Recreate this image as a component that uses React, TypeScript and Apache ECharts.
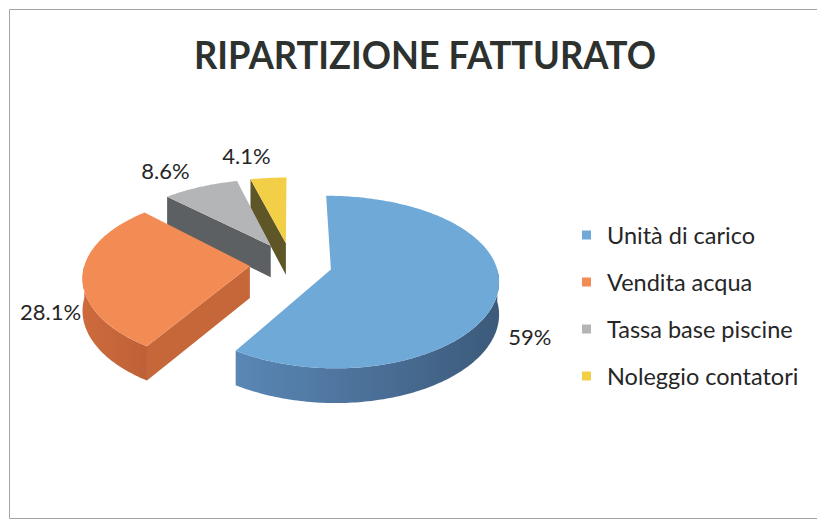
import React, { useEffect, useRef } from "react";
import * as echarts from "echarts";

// ---- data ----
const chartTitle = "RIPARTIZIONE FATTURATO";
const categories = ["Unità di carico", "Vendita acqua", "Tassa base piscine", "Noleggio contatori"];
const shares = [59, 28.1, 8.6, 4.1];

// ---- styling / layout ----
const palette = [
  { top: "#6fa9d8", wallFrom: "#5a87b6", wallTo: "#3c5a7a", face: "#4a6f96" },
  { top: "#f38b55", wallFrom: "#cd6b3c", wallTo: "#be6038", face: "#c6673a" },
  { top: "#b3b5b7", wallFrom: "#8a8c8e", wallTo: "#6a6c6e", face: "#5d6062" },
  { top: "#f3cf47", wallFrom: "#b79a30", wallTo: "#8e7a2a", face: "#5f5628" },
];
const labelNudge = [
  [-2, 4],
  [2, 2],
  [-23, -7],
  [-19, -12],
];
const CX = 291, CY = 263.5, RX = 165, RY = 84.5, KX = 0.12, KY = 0.148;
const EXPLODE = 0.25, DEPTH = 32, KT = 0.08, LABEL_R = 1.2;
const FONT = "Lato, 'Open Sans', sans-serif";

function proj(U: number, V: number): number[] {
  return [CX + RX * U * (1 + KX * V), CY + RY * V * (1 + KY * V)];
}

const total = shares.reduce((a, b) => a + b, 0);

function sliceAngles(i: number, value: number) {
  const before = shares.slice(0, i).reduce((a, b) => a + b, 0);
  const a0 = (before / total) * Math.PI * 2;
  const a1 = ((before + value) / total) * Math.PI * 2;
  return { a0, a1, mid: (a0 + a1) / 2 };
}

function makeRenderItem(i: number) {
  return (params: any, api: any) => {
    const value = api.value(0);
    const { a0, a1, mid } = sliceAngles(i, value);
    const ou = EXPLODE * Math.sin(mid);
    const ov = -EXPLODE * Math.cos(mid);
    const pal = palette[i];
    const Vof = (phi: number) => ov - Math.cos(phi);
    const topP = (phi: number) => proj(ou + Math.sin(phi), Vof(phi));
    const botP = (phi: number) => {
      const p = topP(phi);
      return [p[0], p[1] + DEPTH * (1 + KT * Vof(phi))];
    };
    const vTop = proj(ou, ov);
    const vBot = [vTop[0], vTop[1] + DEPTH * (1 + KT * ov)];
    const arc = (lo: number, hi: number, f: (p: number) => number[]) => {
      const n = Math.max(2, Math.ceil(((hi - lo) * 180) / Math.PI));
      const pts: number[][] = [];
      for (let k = 0; k <= n; k++) pts.push(f(lo + ((hi - lo) * k) / n));
      return pts;
    };
    const children: any[] = [];
    // radial faces
    if (Math.sin(a0) < -0.01) {
      children.push({
        type: "polygon",
        shape: { points: [vTop, topP(a0), botP(a0), vBot] },
        style: { fill: pal.face },
      });
    }
    if (Math.sin(a1) > 0.01) {
      children.push({
        type: "polygon",
        shape: { points: [vTop, topP(a1), botP(a1), vBot] },
        style: { fill: pal.face },
      });
    }
    // outer wall (front half only)
    const lo = Math.max(a0, Math.PI / 2);
    const hi = Math.min(a1, (Math.PI * 3) / 2);
    if (hi > lo) {
      const upper = arc(lo, hi, topP);
      const lower = arc(lo, hi, botP).reverse();
      children.push({
        type: "polygon",
        shape: { points: upper.concat(lower) },
        style: {
          fill: new echarts.graphic.LinearGradient(0, 0, 1, 0, [
            { offset: 0, color: pal.wallFrom },
            { offset: 1, color: pal.wallTo },
          ]),
        },
      });
    }
    // top face
    children.push({
      type: "polygon",
      shape: { points: [vTop].concat(arc(a0, a1, topP)) },
      style: { fill: pal.top },
    });
    // label
    const lu = (EXPLODE + LABEL_R) * Math.sin(mid);
    const lv = -(EXPLODE + LABEL_R) * Math.cos(mid);
    const lp = proj(lu, lv);
    if (lv > 0) lp[1] += DEPTH;
    children.push({
      type: "text",
      x: lp[0] + labelNudge[i][0],
      y: lp[1] + labelNudge[i][1],
      style: {
        text: `${value}%`,
        fill: "#262626",
        fontSize: 22,
        fontFamily: FONT,
        align: "center",
        verticalAlign: "middle",
      },
    });
    return { type: "group", children };
  };
}

export default function App() {
  const ref = useRef<HTMLDivElement>(null);
  useEffect(() => {
    if (!ref.current) return;
    const chart = echarts.init(ref.current, undefined, { renderer: "svg" });
    // draw back slices first
    const order = shares
      .map((v, i) => {
        const { mid } = sliceAngles(i, v);
        return { i, depth: -Math.cos(mid) };
      })
      .sort((a, b) => a.depth - b.depth);
    const series = order.map(({ i }, rank) => ({
      type: "custom",
      name: categories[i],
      coordinateSystem: "none",
      z: 2 + rank,
      itemStyle: { color: palette[i].top },
      data: [shares[i]],
      renderItem: makeRenderItem(i),
    }));
    chart.setOption({
      animation: false,
      backgroundColor: "#ffffff",
      graphic: [
        {
          type: "rect",
          shape: { x: 9.5, y: 9.5, width: 830, height: 509 },
          style: { fill: "none", stroke: "#a3a3a3", lineWidth: 1 },
          silent: true,
        },
        {
          type: "text",
          x: 425,
          y: 54,
          scaleX: 0.93,
          style: {
            text: chartTitle,
            fill: "#2d322f",
            fontSize: 39,
            fontWeight: "bold",
            fontFamily: FONT,
            align: "center",
            verticalAlign: "middle",
          },
        },
      ],
      legend: {
        data: categories,
        orient: "vertical",
        left: 582,
        top: 223,
        padding: 0,
        icon: "rect",
        itemWidth: 9,
        itemHeight: 9,
        itemGap: 23,
        selectedMode: false,
        textStyle: {
          fontSize: 23.5,
          lineHeight: 24,
          fontFamily: FONT,
          color: "#262626",
          padding: [0, 0, 0, 11],
        },
      },
      series,
    });
    return () => chart.dispose();
  }, []);
  return (
    <div
      ref={ref}
      style={{ position: "fixed", left: 0, top: 0, width: 817, height: 521, background: "#fff" }}
    />
  );
}
